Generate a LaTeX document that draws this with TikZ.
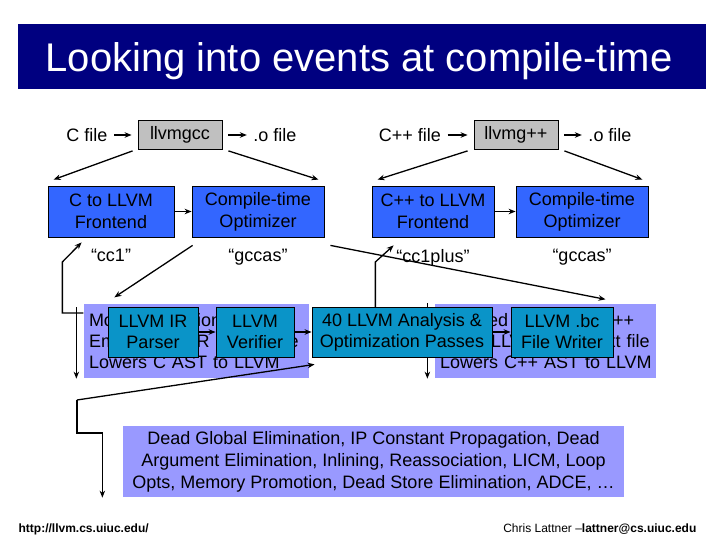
\documentclass[tikz,border=0pt]{standalone}
\usepackage{fontspec}
\setmainfont{Liberation Sans}
\usetikzlibrary{positioning,arrows.meta}
\definecolor{titlenavy}{RGB}{0,0,128}
\definecolor{toolgray}{RGB}{192,192,192}
\definecolor{stageblue}{RGB}{51,102,255}
\definecolor{notelilac}{RGB}{153,153,255}
\definecolor{passteal}{RGB}{10,148,200}
\begin{document}
\begin{tikzpicture}[x=1pt, y=-1pt, >={Stealth[length=7pt,width=5.5pt]}, line width=1.3pt,
		every node/.style={inner sep=0pt, font=\fontsize{18}{21}\selectfont},
		tool/.style={draw=black, line width=0.8pt, fill=toolgray, minimum width=84pt, minimum height=29pt},
		stage/.style={draw=black, line width=0.8pt, fill=stageblue, minimum height=51pt, align=center, font=\fontsize{18}{22}\selectfont},
		note/.style={fill=notelilac, inner xsep=5pt, minimum height=74pt, align=left},
		pass/.style={draw=black, line width=0.8pt, fill=passteal, minimum height=50pt, align=center},
		feed/.style={->, shorten <=6pt, shorten >=6pt}]
	% 0. 画布 (幻灯片 720x540)
	\useasboundingbox (0,0) rectangle (720,540);
	
	% 1. 标题栏
	\node[fill=titlenavy, minimum width=688pt, minimum height=65pt] (titlebar) at (362,56.5) {};
	\node[anchor=base west, text=white, font=\fontsize{40}{48}\selectfont] (title) at (45,72) {Looking into events at compile-time};
	
	% 2. 编译器驱动一行
	\node (cfile) at (87,135) {C file};
	\node[tool] (llvmgcc) at (180,135) {llvmgcc};
	\node (ofileL) at (275,135) {.o file};
	\node (cxxfile) at (410,135) {C++ file};
	\node[tool] (llvmgxx) at (516,135) {llvmg++};
	\node (ofileR) at (610,135) {.o file};
	\draw[feed] (cfile) -- (llvmgcc);
	\draw[feed] (llvmgcc) -- (ofileL);
	\draw[feed] (cxxfile) -- (llvmgxx);
	\draw[feed] (llvmgxx) -- (ofileR);
	
	% 3. 前端与编译期优化器
	\node[stage, minimum width=126pt] (cfront) at (111,211.5) {C to LLVM\\Frontend};
	\node[stage, minimum width=132pt] (copt) at (258,211.5) {Compile-time\\Optimizer};
	\node[stage, minimum width=122pt] (cxxfront) at (433,211.5) {C++ to LLVM\\Frontend};
	\node[stage, minimum width=132pt] (cxxopt) at (582,211.5) {Compile-time\\Optimizer};
	\draw[->] (cfront) -- (copt);
	\draw[->] (cxxfront) -- (cxxopt);
	\draw[->] ([xshift=-5pt,yshift=-1pt]llvmgcc.south west) -- ([xshift=6pt,yshift=6pt]cfront.north west);
	\draw[->] ([xshift=6pt,yshift=-1pt]llvmgcc.south east) -- ([xshift=-6pt,yshift=6pt]copt.north east);
	\draw[->] ([xshift=-6pt,yshift=-1pt]llvmgxx.south west) -- ([xshift=6pt,yshift=6pt]cxxfront.north west);
	\draw[->] ([xshift=6pt,yshift=-1pt]llvmgxx.south east) -- ([xshift=-6pt,yshift=6pt]cxxopt.north east);
	
	% 程序名标签
	\node[below=11pt of cfront] (cclabel) {“cc1”};
	\node[below=11pt of copt] (gccasL) {“gccas”};
	\node[below=11pt of cxxfront] (ccpluslabel) {“cc1plus”};
	\node[below=11pt of cxxopt] (gccasR) {“gccas”};
	
	% 4. 淡紫说明框 (被后面的动画方框部分遮住)
	\node[note, text width=215pt] (noteL) at (196.5,341) {\mbox{Modified version of GCC}\\\mbox{Emits LLVM IR as text file}\\\mbox{Lowers C AST to LLVM}};
	\node[note, text width=211pt] (noteR) at (545.5,341) {\mbox{Modified version of G++}\\\mbox{Emits LLVM IR as text file}\\\mbox{Lowers C++ AST to LLVM}};
	
	% 5. 折线连接 (先画, 让方框盖住)
	\draw[->] ([yshift=28pt]noteL.west) -- ++(-21,0) -- ++(0,-51) -- ([xshift=34pt,yshift=-5pt]cfront.south west);
	\draw[->] ([yshift=28pt]noteR.west) -- ++(-59,0) -- ++(0,-51) -- ([xshift=22pt,yshift=-8pt]cxxfront.south west);
	\draw[->] ([xshift=-7pt,yshift=-4pt]noteL.north west) -- ([xshift=-7pt]noteL.south west);
	\draw[->] ([xshift=-7pt]noteR.north west) -- ([xshift=-7pt]noteR.south west);
	\draw[->] ([xshift=1pt,yshift=-8pt]copt.south west) -- ([xshift=31pt,yshift=6pt]noteL.north west);
	\draw[->] ([xshift=6pt,yshift=-8pt]copt.south east) -- ([xshift=60pt,yshift=4pt]noteR.north);
	
	% 6. LLVM 工具方框
	\node[pass, minimum width=90pt] (parser) at (153,332) {LLVM IR\\Parser};
	\node[pass, minimum width=78pt] (verifier) at (255,332) {LLVM\\Verifier};
	\node[pass, minimum width=180pt] (passes) at (402,332) {40 LLVM Analysis \&\\Optimization Passes};
	\node[pass, minimum width=102pt] (writer) at (562,332) {LLVM .bc\\File Writer};
	\draw[->] (parser) -- (verifier);
	\draw[->] (verifier) -- (passes);
	\draw[->] (passes) -- (writer);
	
	% 7. 优化遍列表
	\node[fill=notelilac, minimum width=501pt, minimum height=71pt, align=center, font=\fontsize{18}{22}\selectfont] (deadbox) at (373.5,461.5) {Dead Global Elimination, IP Constant Propagation, Dead\\Argument Elimination, Inlining, Reassociation, LICM, Loop\\Opts, Memory Promotion, Dead Store Elimination, ADCE, …};
	\coordinate (bend) at (77,400);
	\draw[->] (bend) -- ([xshift=3pt,yshift=-7pt]passes.south west);
	\draw[->] (bend) -- ++(0,33) -| ([xshift=-20pt]deadbox.south west);
	
	% 8. 页脚
	\node[anchor=base west, font=\fontsize{12}{14}\selectfont\bfseries] (url) at (18,532) {http://llvm.cs.uiuc.edu/};
	\node[anchor=base east, font=\fontsize{12}{14}\selectfont] (author) at (697,532) {Chris Lattner –\textbf{lattner@cs.uiuc.edu}};
\end{tikzpicture}
\end{document}
